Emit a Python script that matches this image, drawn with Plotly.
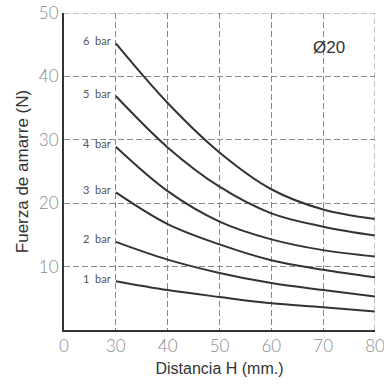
import plotly.graph_objects as go

distancia = [30, 40, 50, 60, 70, 80]
bar1 = [7.7, 6.3, 5.2, 4.2, 3.6, 2.9]
bar2 = [13.9, 11.1, 9.0, 7.4, 6.3, 5.3]
bar3 = [21.7, 16.7, 13.5, 11.0, 9.5, 8.3]
bar4 = [28.9, 21.9, 17.1, 14.3, 12.6, 11.6]
bar5 = [36.9, 28.8, 22.6, 18.4, 16.3, 14.9]
bar6 = [45.2, 35.8, 28.0, 22.2, 19.0, 17.5]
series = [("1  bar", bar1), ("2  bar", bar2), ("3  bar", bar3),
          ("4  bar", bar4), ("5  bar", bar5), ("6  bar", bar6)]

x_tickvals = [20, 30, 40, 50, 60, 70, 80]
x_ticktext = ["0", "30", "40", "50", "60", "70", "80"]
y_tickvals = [0, 10, 20, 30, 40, 50]
y_ticktext = ["", "10", "20", "30", "40", "50"]
x_range = [20, 80]
y_range = [0, 50]

grid_color = "#888888"
grid_dash = "6px,3px"

fig = go.Figure()
for name, vals in series:
    fig.add_trace(go.Scatter(x=distancia, y=vals, mode="lines",
                             line=dict(color="#333333", width=2, shape="spline"),
                             showlegend=False, name=name))
    fig.add_annotation(x=distancia[0], y=vals[0], text=name, showarrow=False,
                       xanchor="right", yanchor="middle", xshift=-3, yshift=3,
                       font=dict(family="Lato", size=11, color="#555555"))

fig.add_annotation(x=74.6, y=44.6, text="Ø20", showarrow=False,
                   xanchor="right", yanchor="middle",
                   font=dict(family="Liberation Sans", size=17, color="#333333"))

# dashed border lines at the top (50) and right (80) edges
fig.add_shape(type="line", xref="x", yref="y", x0=x_range[0], x1=x_range[1],
              y0=y_range[1], y1=y_range[1],
              line=dict(color=grid_color, width=1, dash=grid_dash))
fig.add_shape(type="line", xref="x", yref="y", x0=x_range[1], x1=x_range[1],
              y0=y_range[0], y1=y_range[1],
              line=dict(color=grid_color, width=1, dash=grid_dash))

tick_font = dict(family="Lato", size=17, color="#8a8a8a", weight=300)

fig.update_layout(
    width=384, height=387,
    margin=dict(l=64, r=9, t=13, b=57),
    paper_bgcolor="white", plot_bgcolor="white",
    xaxis=dict(range=x_range, tickvals=x_tickvals, ticktext=x_ticktext,
               showgrid=True, gridcolor=grid_color, griddash=grid_dash, gridwidth=1,
               showline=True, linecolor="#333333", linewidth=2,
               zeroline=False, ticks="", ticklabeloverflow="allow", automargin=False,
               tickfont=tick_font,
               title=dict(text="Distancia H (mm.)", standoff=7,
                          font=dict(family="Liberation Sans", size=16, color="#333333"))),
    yaxis=dict(range=y_range, tickvals=y_tickvals, ticktext=y_ticktext,
               showgrid=True, gridcolor=grid_color, griddash=grid_dash, gridwidth=1,
               showline=True, linecolor="#333333", linewidth=2,
               zeroline=False, ticks="", ticklabeloverflow="allow", automargin=False,
               tickfont=tick_font,
               title=dict(text="Fuerza de amarre (N)", standoff=6,
                          font=dict(family="Liberation Sans", size=17, color="#333333"))),
)

fig.write_html("out.html")
